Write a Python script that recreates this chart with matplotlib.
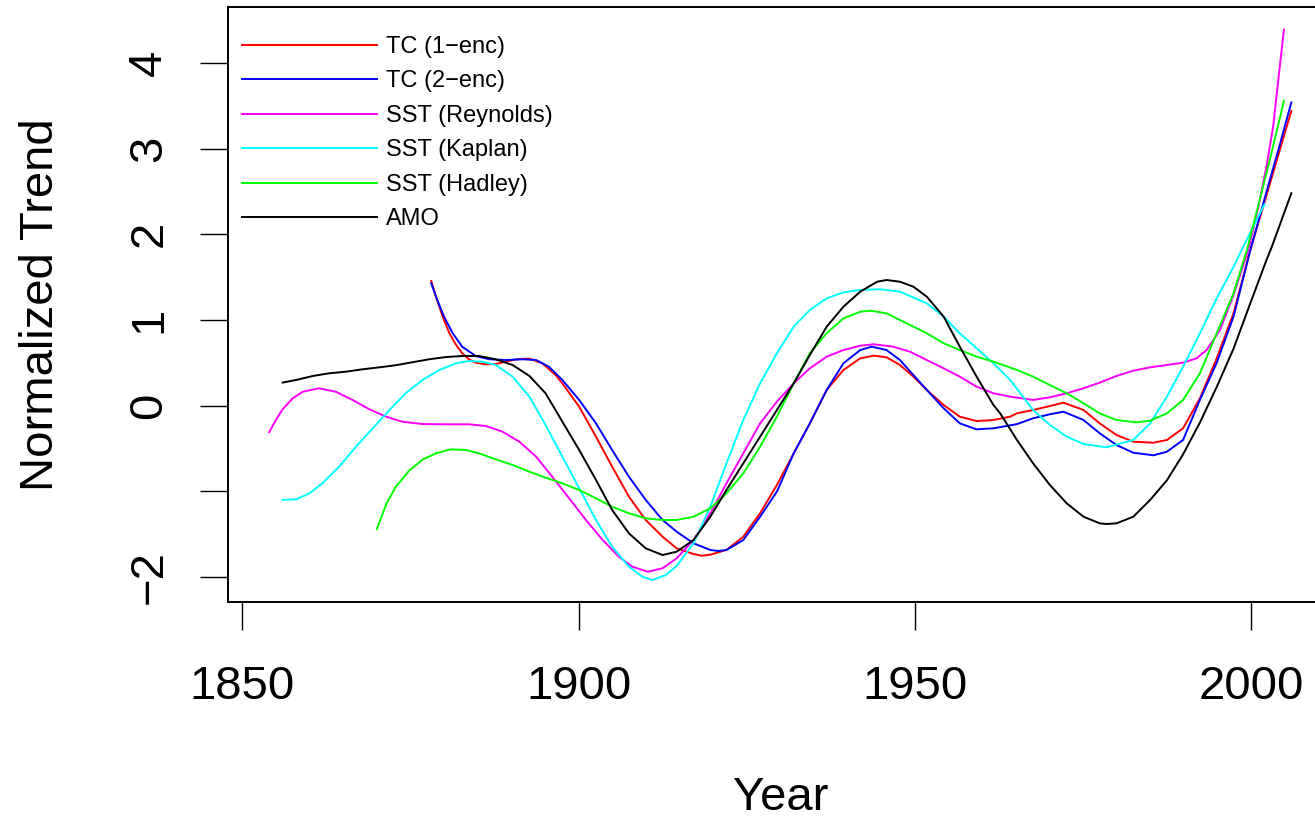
import matplotlib
matplotlib.use("Agg")
import matplotlib.pyplot as plt

plt.rcParams["font.family"] = ["Liberation Sans", "DejaVu Sans"]

# Smoothed normalized trends per series (year, value)
tc1_years = [1878.1, 1878.8, 1879.8, 1880.8, 1881.8, 1882.7, 1883.7, 1884.7, 1886.2, 1887.7,
             1889.2, 1890.7, 1892.7, 1894.6, 1896.6, 1897.6, 1900.1, 1902.6, 1905.0, 1907.5,
             1910.0, 1912.5, 1914.6, 1917.1, 1918.3, 1919.6, 1922.0, 1924.5, 1927.0, 1929.5,
             1932.0, 1934.4, 1936.9, 1939.4, 1941.9, 1943.9, 1945.8, 1947.8, 1949.8, 1951.8,
             1954.3, 1956.7, 1959.2, 1961.7, 1964.2, 1965.2, 1967.6, 1970.1, 1972.1, 1975.1,
             1977.5, 1980.0, 1982.5, 1985.5, 1987.5, 1989.9, 1992.4, 1994.9, 1997.4, 1999.9,
             2002.1, 2004.0, 2006.0]
tc1_vals = [1.456, 1.272, 1.039, 0.845, 0.709, 0.612, 0.542, 0.502, 0.483, 0.487,
            0.514, 0.542, 0.549, 0.495, 0.358, 0.26, -0.012, -0.362, -0.712, -1.062,
            -1.334, -1.529, -1.665, -1.731, -1.751, -1.739, -1.684, -1.529, -1.256, -0.925,
            -0.556, -0.206, 0.183, 0.417, 0.553, 0.584, 0.565, 0.475, 0.339, 0.183,
            0.008, -0.128, -0.179, -0.167, -0.128, -0.089, -0.05, -0.004, 0.035, -0.05,
            -0.206, -0.342, -0.42, -0.432, -0.40, -0.264, 0.086, 0.553, 1.078, 1.817,
            2.40, 2.91, 3.44]

tc2_years = [1878.1, 1879.0, 1880.0, 1881.3, 1882.7, 1884.7, 1886.7, 1889.2, 1891.7, 1893.7,
             1895.6, 1897.6, 1900.1, 1902.6, 1905.0, 1907.5, 1910.0, 1912.5, 1914.6, 1917.1,
             1919.6, 1920.8, 1922.0, 1924.5, 1927.0, 1929.5, 1932.0, 1934.4, 1936.9, 1939.4,
             1941.9, 1943.6, 1945.8, 1947.8, 1949.8, 1951.8, 1954.3, 1956.7, 1959.2, 1961.7,
             1965.2, 1967.6, 1970.1, 1972.1, 1975.1, 1977.5, 1980.0, 1982.5, 1985.5, 1987.5,
             1989.9, 1992.4, 1994.9, 1997.4, 1999.9, 2002.5, 2004.3, 2006.0]
tc2_vals = [1.429, 1.234, 1.039, 0.845, 0.689, 0.58, 0.542, 0.533, 0.542, 0.533,
            0.455, 0.30, 0.067, -0.206, -0.517, -0.829, -1.10, -1.334, -1.471, -1.606,
            -1.684, -1.696, -1.684, -1.568, -1.296, -1.003, -0.556, -0.206, 0.183, 0.495,
            0.65, 0.689, 0.65, 0.533, 0.358, 0.183, -0.03, -0.206, -0.276, -0.264,
            -0.215, -0.147, -0.10, -0.07, -0.167, -0.322, -0.459, -0.549, -0.579, -0.537,
            -0.40, 0.067, 0.50, 1.039, 1.817, 2.55, 3.05, 3.54]

reyn_years = [1854.0, 1855.0, 1856.0, 1857.5, 1859.0, 1861.4, 1863.9, 1866.4, 1868.9, 1871.4,
              1873.8, 1876.8, 1880.3, 1883.7, 1886.2, 1888.7, 1891.2, 1893.7, 1896.1, 1898.6,
              1901.1, 1903.6, 1906.0, 1908.0, 1910.3, 1912.5, 1914.6, 1917.1, 1919.6, 1922.0,
              1924.5, 1927.0, 1929.5, 1932.0, 1934.4, 1936.9, 1939.4, 1941.9, 1943.9, 1946.8,
              1949.3, 1951.8, 1954.3, 1956.7, 1959.2, 1961.7, 1964.2, 1967.6, 1970.1, 1972.6,
              1975.1, 1977.5, 1980.0, 1982.5, 1985.0, 1987.5, 1989.9, 1991.9, 1993.4, 1995.4,
              1997.4, 1999.6, 2001.1, 2002.3, 2003.3, 2004.0, 2004.9]
reyn_vals = [-0.31, -0.167, -0.042, 0.086, 0.163, 0.203, 0.163, 0.067, -0.042, -0.128,
             -0.187, -0.214, -0.217, -0.217, -0.237, -0.303, -0.42, -0.595, -0.83, -1.08,
             -1.334, -1.568, -1.763, -1.879, -1.938, -1.898, -1.781, -1.568, -1.256, -0.906,
             -0.556, -0.206, 0.047, 0.261, 0.436, 0.572, 0.65, 0.70, 0.717, 0.689,
             0.63, 0.533, 0.436, 0.339, 0.222, 0.145, 0.105, 0.067, 0.098, 0.145,
             0.203, 0.269, 0.347, 0.409, 0.448, 0.475, 0.502, 0.553, 0.65, 0.884,
             1.292, 1.817, 2.32, 2.79, 3.26, 3.76, 4.39]

kap_years = [1856.0, 1858.0, 1860.0, 1861.9, 1864.4, 1866.9, 1869.4, 1871.9, 1874.3, 1876.8,
             1879.3, 1881.8, 1883.7, 1885.7, 1887.7, 1890.2, 1892.7, 1895.1, 1897.6, 1900.1,
             1902.6, 1905.0, 1907.5, 1909.5, 1911.0, 1913.0, 1914.6, 1917.1, 1919.6, 1922.0,
             1924.5, 1927.0, 1929.5, 1932.0, 1934.4, 1936.9, 1939.4, 1941.9, 1944.8, 1947.8,
             1951.8, 1954.3, 1956.7, 1959.2, 1961.7, 1964.2, 1967.6, 1970.1, 1972.6, 1975.1,
             1978.5, 1982.5, 1985.0, 1987.5, 1989.9, 1992.4, 1994.9, 1997.4, 1998.6, 2002.0]
kap_vals = [-1.10, -1.093, -1.023, -0.906, -0.712, -0.479, -0.264, -0.05, 0.145, 0.30,
            0.417, 0.495, 0.522, 0.514, 0.475, 0.339, 0.105, -0.225, -0.595, -0.964,
            -1.334, -1.646, -1.879, -1.996, -2.035, -1.976, -1.87, -1.606, -1.179, -0.673,
            -0.167, 0.261, 0.612, 0.922, 1.117, 1.253, 1.323, 1.351, 1.359, 1.331,
            1.195, 1.039, 0.845, 0.67, 0.495, 0.30, -0.05, -0.225, -0.362, -0.447,
            -0.486, -0.40, -0.206, 0.105, 0.455, 0.845, 1.253, 1.62, 1.817, 2.35]

had_years = [1870.0, 1871.4, 1872.8, 1874.8, 1876.8, 1878.8, 1881.0, 1883.3, 1885.2, 1887.7,
             1890.2, 1892.7, 1895.1, 1897.6, 1900.1, 1902.6, 1905.0, 1907.5, 1910.0, 1912.5,
             1914.6, 1917.1, 1919.6, 1922.0, 1924.5, 1927.0, 1929.5, 1932.0, 1934.4, 1936.9,
             1939.4, 1941.9, 1943.4, 1945.8, 1947.8, 1951.8, 1954.3, 1956.7, 1959.2, 1961.7,
             1965.2, 1967.6, 1970.1, 1972.6, 1975.1, 1977.5, 1980.0, 1983.0, 1985.0, 1987.5,
             1989.9, 1992.4, 1994.9, 1997.4, 1999.4, 2002.8, 2004.9]
had_vals = [-1.443, -1.15, -0.95, -0.76, -0.63, -0.556, -0.509, -0.517, -0.556, -0.626,
            -0.692, -0.77, -0.84, -0.906, -0.984, -1.081, -1.179, -1.256, -1.315, -1.334,
            -1.334, -1.296, -1.198, -1.023, -0.79, -0.479, -0.128, 0.261, 0.612, 0.845,
            1.02, 1.097, 1.109, 1.078, 1.0, 0.845, 0.728, 0.65, 0.572, 0.514,
            0.417, 0.339, 0.241, 0.145, 0.028, -0.089, -0.167, -0.194, -0.175, -0.089,
            0.067, 0.378, 0.845, 1.312, 1.817, 2.87, 3.56]

amo_years = [1856.0, 1858.0, 1860.5, 1862.9, 1865.4, 1867.9, 1870.4, 1872.8, 1875.3, 1877.8,
             1880.3, 1882.7, 1885.2, 1887.7, 1890.2, 1892.7, 1895.1, 1897.6, 1900.1, 1902.6,
             1905.0, 1907.5, 1910.0, 1912.5, 1914.6, 1917.1, 1919.6, 1922.0, 1924.5, 1927.0,
             1929.5, 1932.0, 1934.4, 1936.9, 1939.4, 1941.9, 1944.4, 1945.8, 1947.8, 1949.8,
             1951.8, 1954.3, 1956.7, 1959.2, 1961.7, 1962.7, 1965.2, 1967.6, 1970.1, 1972.6,
             1975.1, 1977.5, 1978.5, 1980.0, 1982.5, 1985.0, 1987.5, 1989.9, 1992.4, 1994.9,
             1997.4, 1999.8, 2002.3, 2003.1, 2006.0]
amo_vals = [0.27, 0.30, 0.347, 0.378, 0.397, 0.425, 0.448, 0.472, 0.507, 0.542,
            0.568, 0.58, 0.58, 0.542, 0.475, 0.347, 0.145, -0.187, -0.517, -0.867,
            -1.217, -1.49, -1.665, -1.743, -1.704, -1.568, -1.296, -0.984, -0.673, -0.362,
            -0.05, 0.261, 0.592, 0.922, 1.156, 1.331, 1.447, 1.467, 1.447, 1.389,
            1.272, 1.039, 0.689, 0.339, 0.008, -0.089, -0.40, -0.673, -0.926, -1.14,
            -1.296, -1.373, -1.381, -1.373, -1.296, -1.10, -0.87, -0.568, -0.198, 0.218,
            0.665, 1.175, 1.70, 1.856, 2.48]

series = [
    ("TC (1\u2212enc)", tc1_years, tc1_vals, "#FF0000"),
    ("TC (2\u2212enc)", tc2_years, tc2_vals, "#0000FF"),
    ("SST (Reynolds)", reyn_years, reyn_vals, "#FF00FF"),
    ("SST (Kaplan)", kap_years, kap_vals, "#00FFFF"),
    ("SST (Hadley)", had_years, had_vals, "#00FF00"),
    ("AMO", amo_years, amo_vals, "#000000"),
]

x_ticks = [1850, 1900, 1950, 2000]
y_ticks = [-2, -1, 0, 1, 2, 3, 4]
y_tick_labels = ["\u22122", "", "0", "1", "2", "3", "4"]

fig = plt.figure(figsize=(13.15, 8.18), dpi=100)
ax = fig.add_axes([0.1736, 0.2644, 0.8395, 0.7274])

for label, yrs, vals, color in series:
    ax.plot(yrs, vals, color=color, lw=1.4, label=label, solid_joinstyle="round")

ax.set_xlim(1847.92, 2012.08)
ax.set_ylim(-2.288, 4.657)

ax.set_xticks(x_ticks)
ax.set_xticklabels([str(t) for t in x_ticks])
ax.set_yticks(y_ticks)
ax.set_yticklabels(y_tick_labels, rotation=90, va="center")

ax.tick_params(axis="both", direction="out", length=20, width=1.0,
               labelsize=34, colors="black")
ax.tick_params(axis="x", pad=25.5)
ax.tick_params(axis="y", pad=21)

for sp in ax.spines.values():
    sp.set_linewidth(1.4)

ax.set_xlabel("Year", fontsize=34)
ax.set_ylabel("Normalized Trend", fontsize=34)
ax.xaxis.set_label_coords(0.5, -0.2935)
ax.yaxis.set_label_coords(-0.1495, 0.5)

ax.legend(loc="upper left", bbox_to_anchor=(0.0124, 0.951), frameon=False,
          fontsize=17, handlelength=5.72, handletextpad=0.38, labelspacing=0.53,
          borderpad=0, borderaxespad=0)

fig.savefig("out.png", dpi=100)
